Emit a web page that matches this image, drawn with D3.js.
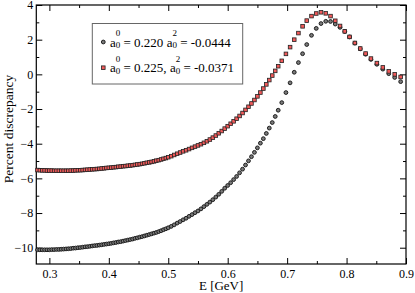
<!DOCTYPE html>
<html>
<head>
<meta charset="utf-8">
<script src="https://cdn.jsdelivr.net/npm/d3@7"></script>
<style>
  body { margin: 0; background: #fff; }
  svg { display: block; }
</style>
</head>
<body>
<div id="chart"></div>
<script>
// energies in GeV (shared by both series)
const energy = [
  0.280, 0.284, 0.288, 0.292, 0.296, 0.300, 0.304, 0.308, 0.312, 0.316,
  0.320, 0.324, 0.328, 0.332, 0.336, 0.340, 0.344, 0.348, 0.352, 0.356,
  0.360, 0.364, 0.368, 0.372, 0.376, 0.380, 0.384, 0.388, 0.392, 0.396,
  0.400, 0.404, 0.408, 0.412, 0.416, 0.420, 0.424, 0.428, 0.432, 0.436,
  0.440, 0.444, 0.448, 0.452, 0.456, 0.460, 0.464, 0.468, 0.472, 0.476,
  0.480, 0.484, 0.488, 0.492, 0.496, 0.500,
  0.505, 0.510, 0.515, 0.520, 0.525, 0.530, 0.535, 0.540, 0.545, 0.550,
  0.555, 0.560, 0.565, 0.570, 0.575, 0.580, 0.585, 0.590, 0.595, 0.600,
  0.605, 0.610, 0.615, 0.620, 0.625, 0.630, 0.635, 0.640, 0.645, 0.650,
  0.655, 0.660, 0.665, 0.670, 0.675, 0.680, 0.685,
  0.691, 0.698, 0.705, 0.712, 0.719, 0.726, 0.733, 0.741, 0.749, 0.757,
  0.765, 0.773, 0.781, 0.789, 0.797, 0.805, 0.814, 0.823, 0.832, 0.841,
  0.851, 0.861, 0.871, 0.881, 0.891
];

// a0^0 = 0.220, a0^2 = -0.0444 (black circles)
const discA = [
  -10.12, -10.12, -10.12, -10.12, -10.12, -10.12, -10.11, -10.11, -10.10, -10.10,
  -10.09, -10.08, -10.07, -10.06, -10.05, -10.03, -10.02, -10.00, -9.99, -9.97,
  -9.95, -9.94, -9.92, -9.90, -9.88, -9.87, -9.85, -9.83, -9.81, -9.79,
  -9.77, -9.75, -9.72, -9.70, -9.67, -9.65, -9.62, -9.59, -9.56, -9.53,
  -9.50, -9.46, -9.43, -9.39, -9.36, -9.32, -9.28, -9.24, -9.20, -9.16,
  -9.12, -9.07, -9.02, -8.96, -8.91, -8.85,
  -8.77, -8.68, -8.58, -8.49, -8.39, -8.30, -8.19, -8.09, -7.98, -7.88,
  -7.76, -7.63, -7.50, -7.37, -7.23, -7.08, -6.92, -6.75, -6.57, -6.41,
  -6.25, -6.07, -5.89, -5.68, -5.47, -5.23, -4.99, -4.75, -4.50, -4.24,
  -3.97, -3.71, -3.41, -3.10, -2.78, -2.43, -2.07,
  -1.63, -1.05, -0.49, 0.12, 0.68, 1.19, 1.72, 2.25, 2.65, 2.93,
  3.06, 3.05, 2.90, 2.71, 2.47, 2.16, 1.80, 1.47, 1.16, 0.86,
  0.58, 0.30, 0.04, -0.18, -0.42
];

// a0^0 = 0.225, a0^2 = -0.0371 (red squares)
const discB = [
  -5.52, -5.53, -5.54, -5.54, -5.55, -5.55, -5.55, -5.56, -5.56, -5.56,
  -5.56, -5.56, -5.56, -5.56, -5.55, -5.55, -5.54, -5.53, -5.53, -5.52,
  -5.51, -5.50, -5.49, -5.48, -5.47, -5.46, -5.45, -5.43, -5.42, -5.40,
  -5.39, -5.38, -5.36, -5.35, -5.33, -5.32, -5.30, -5.29, -5.27, -5.26,
  -5.24, -5.22, -5.20, -5.18, -5.16, -5.13, -5.10, -5.08, -5.05, -5.02,
  -4.98, -4.95, -4.91, -4.87, -4.83, -4.78,
  -4.72, -4.65, -4.58, -4.51, -4.44, -4.38, -4.31, -4.24, -4.17, -4.10,
  -4.03, -3.95, -3.86, -3.76, -3.65, -3.53, -3.40, -3.27, -3.13, -2.99,
  -2.85, -2.71, -2.56, -2.40, -2.23, -2.05, -1.87, -1.68, -1.48, -1.27,
  -1.05, -0.82, -0.58, -0.33, -0.07, 0.20, 0.47,
  0.78, 1.18, 1.57, 2.00, 2.38, 2.77, 3.10, 3.36, 3.51, 3.58,
  3.52, 3.36, 3.09, 2.79, 2.48, 2.16, 1.81, 1.49, 1.20, 0.91,
  0.65, 0.40, 0.17, 0.00, -0.15
];

const xMajor = [0.3, 0.4, 0.5, 0.6, 0.7, 0.8, 0.9];
const xMinor = [0.35, 0.45, 0.55, 0.65, 0.75, 0.85];
const yMajor = [-10, -8, -6, -4, -2, 0, 2, 4];
const yMinor = [-9, -7, -5, -3, -1, 1, 3];

const W = 415, H = 293;
const PLOT = { LEFT: 36.3, RIGHT: 406, TOP: 5, BOTTOM: 264 };
const FONT = "'Liberation Serif'";

const svg = d3.select('#chart').append('svg')
  .attr('width', W)
  .attr('height', H);

const x = d3.scaleLinear().domain([0.278, 0.9]).range([PLOT.LEFT, PLOT.RIGHT]);
const y = d3.scaleLinear().domain([-10.94, 4]).range([PLOT.BOTTOM, PLOT.TOP]);

const points = energy.map((e, i) => ({ e, a: discA[i], b: discB[i] }));

// axes (ticks pointing inward, mirrored on top/right)
function styleAxis(g) {
  g.attr('font-family', null).attr('font-size', null);
  g.select('.domain').remove();
  g.selectAll('line').attr('stroke', '#000').attr('stroke-width', 1);
  g.selectAll('text')
    .style('font-family', FONT)
    .style('font-size', '12px')
    .attr('fill', '#000');
}

svg.append('g')
  .attr('transform', `translate(0,${PLOT.BOTTOM})`)
  .call(d3.axisBottom(x).tickValues(xMajor).tickSize(-6).tickPadding(5.5).tickFormat(d3.format('.1f')))
  .call(styleAxis);
svg.append('g')
  .attr('transform', `translate(0,${PLOT.BOTTOM})`)
  .call(d3.axisBottom(x).tickValues(xMinor).tickSize(-3).tickFormat(''))
  .call(styleAxis);
svg.append('g')
  .attr('transform', `translate(0,${PLOT.TOP})`)
  .call(d3.axisTop(x).tickValues(xMajor).tickSize(-6).tickFormat(''))
  .call(styleAxis);
svg.append('g')
  .attr('transform', `translate(0,${PLOT.TOP})`)
  .call(d3.axisTop(x).tickValues(xMinor).tickSize(-3).tickFormat(''))
  .call(styleAxis);

svg.append('g')
  .attr('transform', `translate(${PLOT.LEFT},0)`)
  .call(d3.axisLeft(y).tickValues(yMajor).tickSize(-6).tickPadding(3).tickFormat(d3.format('d')))
  .call(styleAxis);
svg.append('g')
  .attr('transform', `translate(${PLOT.LEFT},0)`)
  .call(d3.axisLeft(y).tickValues(yMinor).tickSize(-3).tickFormat(''))
  .call(styleAxis);
svg.append('g')
  .attr('transform', `translate(${PLOT.RIGHT},0)`)
  .call(d3.axisRight(y).tickValues(yMajor).tickSize(-6).tickFormat(''))
  .call(styleAxis);
svg.append('g')
  .attr('transform', `translate(${PLOT.RIGHT},0)`)
  .call(d3.axisRight(y).tickValues(yMinor).tickSize(-3).tickFormat(''))
  .call(styleAxis);

// frame
svg.append('rect')
  .attr('x', PLOT.LEFT)
  .attr('y', PLOT.TOP)
  .attr('width', PLOT.RIGHT - PLOT.LEFT)
  .attr('height', PLOT.BOTTOM - PLOT.TOP)
  .attr('fill', 'none')
  .attr('stroke', '#000')
  .attr('stroke-width', 1.2);

// axis titles
svg.append('text')
  .attr('x', (PLOT.LEFT + PLOT.RIGHT) / 2)
  .attr('y', 290)
  .attr('text-anchor', 'middle')
  .style('font-family', FONT)
  .style('font-size', '13px')
  .text('E [GeV]');

svg.append('text')
  .attr('transform', 'translate(12.5,129) rotate(-90)')
  .attr('text-anchor', 'middle')
  .style('font-family', FONT)
  .style('font-size', '13.5px')
  .text('Percent discrepancy');

// markers
const R = 1.9, S = 3.6;

svg.append('g').selectAll('circle')
  .data(points)
  .enter()
  .append('circle')
  .attr('cx', d => x(d.e))
  .attr('cy', d => y(d.a))
  .attr('r', R)
  .attr('fill', '#7a7a7a')
  .attr('stroke', '#111')
  .attr('stroke-width', 0.9);

svg.append('g').selectAll('rect')
  .data(points)
  .enter()
  .append('rect')
  .attr('x', d => x(d.e) - S / 2)
  .attr('y', d => y(d.b) - S / 2)
  .attr('width', S)
  .attr('height', S)
  .attr('fill', '#f05a5a')
  .attr('stroke', '#222')
  .attr('stroke-width', 0.8);

// legend
const legend = svg.append('g');
legend.append('rect')
  .attr('x', 92.3)
  .attr('y', 23.5)
  .attr('width', 150.4)
  .attr('height', 60.5)
  .attr('fill', '#fff')
  .attr('stroke', '#666')
  .attr('stroke-width', 1);

legend.append('circle')
  .attr('cx', 103.3).attr('cy', 42).attr('r', R)
  .attr('fill', '#7a7a7a').attr('stroke', '#111').attr('stroke-width', 0.9);
legend.append('rect')
  .attr('x', 103.3 - S / 2).attr('y', 67.7 - S / 2).attr('width', S).attr('height', S)
  .attr('fill', '#f05a5a').attr('stroke', '#222').attr('stroke-width', 0.8);

// "a" with stacked superscript/subscript, then the rest
function aSymbol(text, sup) {
  text.append('tspan').text('a');
  text.append('tspan').style('font-size', '9px').attr('dy', -10.5).text(sup);
  text.append('tspan').style('font-size', '9px').attr('dx', -4.5).attr('dy', 12.3).text('0');
}
function legendLine(yBase, v0, sep, v2) {
  const t = legend.append('text')
    .attr('x', 110)
    .attr('y', yBase)
    .style('font-family', FONT)
    .style('font-size', '13px')
    .attr('fill', '#000');
  aSymbol(t, '0');
  t.append('tspan').attr('dy', -1.8).text(` = ${v0}${sep} `);
  aSymbol(t, '2');
  t.append('tspan').attr('dy', -1.8).text(` = ${v2}`);
}
legendLine(46.6, '0.220', '', '-0.0444');
legendLine(72.4, '0.225', ',', '-0.0371');
</script>
</body>
</html>
